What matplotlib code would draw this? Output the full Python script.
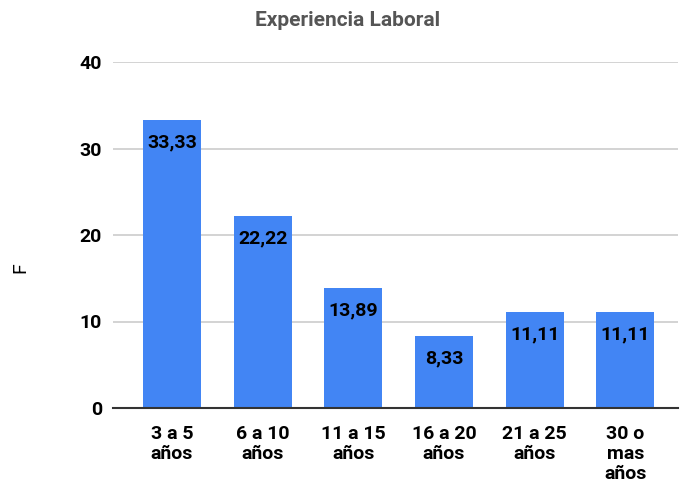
import matplotlib
matplotlib.use("Agg")
import matplotlib.pyplot as plt

categories = ["3 a 5\naños", "6 a 10\naños", "11 a 15\naños", "16 a 20\naños",
              "21 a 25\naños", "30 o\nmas\naños"]
values = [33.33, 22.22, 13.89, 8.33, 11.11, 11.11]
yticks = [0, 10, 20, 30, 40]

BLUE = "#4285F4"
plt.rcParams["font.family"] = ["Roboto", "DejaVu Sans"]

fig = plt.figure(figsize=(6.8, 4.84), dpi=100)
ax = fig.add_axes([113 / 680, 76 / 484, (678 - 113) / 680, (408 - 62) / 484])

x = list(range(len(values)))
ax.bar(x, values, width=0.64, color=BLUE, zorder=3)
for xi, v in zip(x, values):
    ax.annotate(f"{v:.2f}".replace(".", ","), (xi, v), xytext=(0, -10),
                textcoords="offset points", ha="center", va="top",
                fontsize=14, fontweight="bold", color="black", zorder=4)

ax.set_xlim(-0.65, 5.58)
ax.set_ylim(0, 40)
ax.set_yticks(yticks)
ax.set_yticklabels([str(t) for t in yticks], fontsize=14, fontweight="bold")
ax.set_xticks(x)
ax.set_xticklabels(categories, fontsize=14, fontweight="bold", linespacing=1.15,
                   va="top")
ax.tick_params(axis="both", length=0, pad=8, colors="black")
ax.tick_params(axis="x", pad=12)
ax.grid(axis="y", color="#cccccc", linewidth=1.2, zorder=0)
for s in ["top", "right", "left"]:
    ax.spines[s].set_visible(False)
ax.spines["bottom"].set_color("#333333")
ax.spines["bottom"].set_linewidth(1.5)
ax.spines["bottom"].set_zorder(5)

fig.text(348 / 680, 1 - 21 / 484, "Experiencia Laboral", ha="center", va="center",
         fontsize=15, fontweight="bold", color="#555555")
fig.text(20 / 680, 1 - 268 / 484, "F", ha="center", va="center", rotation=90,
         fontsize=14, color="black")

fig.savefig("out.png", dpi=100)
